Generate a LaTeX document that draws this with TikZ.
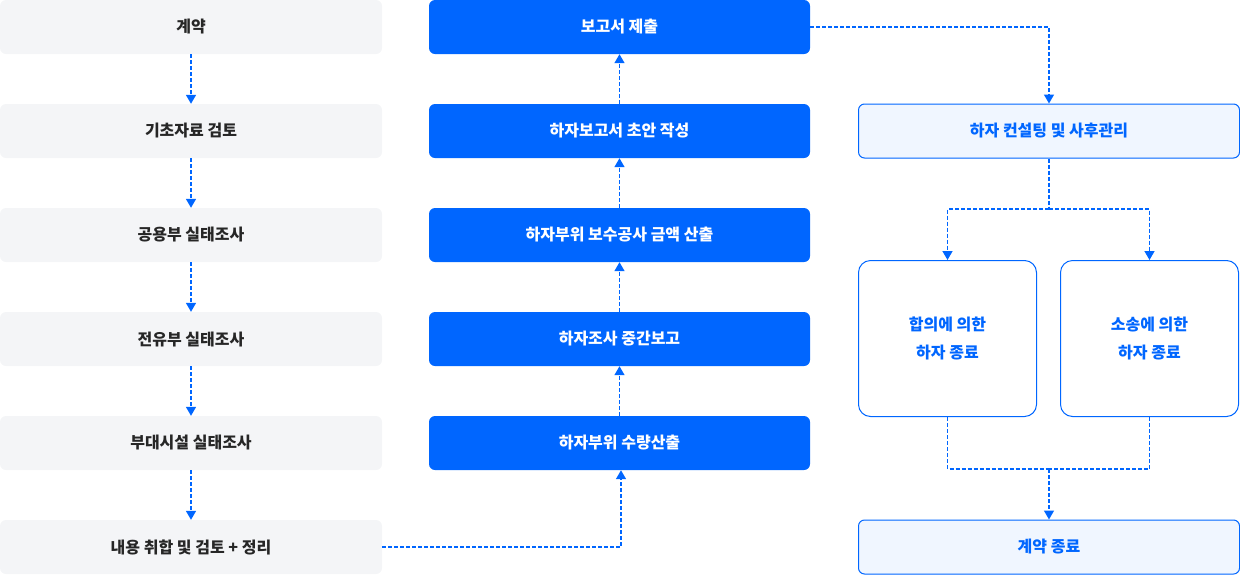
\documentclass[tikz,border=0pt]{standalone}
\usepackage{fontspec}
\setmainfont{Noto Sans CJK KR}
\usetikzlibrary{arrows.meta}
\definecolor{bl}{HTML}{0066FF}
\definecolor{gr}{HTML}{F4F5F7}
\definecolor{lb}{HTML}{F0F6FF}
\begin{document}
\begin{tikzpicture}[x=1pt,y=-1pt,
 base/.style={rounded corners=6pt,minimum height=54pt,inner sep=0pt,font=\fontsize{16}{20}\selectfont\bfseries,align=center},
 L/.style={base,fill=gr,minimum width=382pt,text=black!85},
 M/.style={base,fill=bl,minimum width=381pt,text=white},
 R/.style={base,fill=lb,draw=bl,line width=1pt,minimum width=381pt,text=bl},
 T/.style={base,fill=white,draw=bl,line width=1pt,rounded corners=12pt,minimum width=178pt,minimum height=156pt,text=bl,font=\fontsize{16}{28}\selectfont\bfseries},
 c/.style={draw=bl,line width=1.5pt,dash pattern=on 4pt off 2pt},
 a/.style={c,-{Triangle[width=10pt,length=9pt]}}]
\useasboundingbox (0,0) rectangle (1240,574);
\node[L] (l1) at (191,27) {계약};
\node[L] (l2) at (191,131) {기초자료 검토};
\node[L] (l3) at (191,235) {공용부 실태조사};
\node[L] (l4) at (191,339) {전유부 실태조사};
\node[L] (l5) at (191,443) {부대시설 실태조사};
\node[L] (l6) at (191,547) {내용 취합 및 검토 + 정리};
\node[M] (m1) at (619.5,27) {보고서 제출};
\node[M] (m2) at (619.5,131) {하자보고서 초안 작성};
\node[M] (m3) at (619.5,235) {하자부위 보수공사 금액 산출};
\node[M] (m4) at (619.5,339) {하자조사 중간보고};
\node[M] (m5) at (619.5,443) {하자부위 수량산출};
\node[R] (r1) at (1049,131) {하자 컨설팅 및 사후관리};
\node[T] (t1) at (947.5,338.5) {합의에 의한\\하자 종료};
\node[T] (t2) at (1149.5,338.5) {소송에 의한\\하자 종료};
\node[R] (r2) at (1049,547) {계약 종료};
\foreach \i/\j in {l1/l2,l2/l3,l3/l4,l4/l5,l5/l6} \draw[a] (\i.south) -- (\j.north);
\foreach \i/\j in {m5/m4,m4/m3,m3/m2,m2/m1} \draw[a] (\i.north) -- (\j.south);
\coordinate (k1) at (621,547);
\draw[a] (l6.east) -- (k1) -- (m5.south -| k1);
\coordinate (k2) at (1049,27);
\draw[a] (m1.east) -- (k2) -- (r1.north);
\coordinate (s) at (1049,209);
\draw[c] (r1.south) -- (s);
\draw[a] (s) -| (t1.north);
\draw[a] (s) -| (t2.north);
\coordinate (j) at (1049,469);
\draw[c] (t1.south) |- (j);
\draw[c] (t2.south) |- (j);
\draw[a] (j) -- (r2.north);
\end{tikzpicture}
\end{document}
